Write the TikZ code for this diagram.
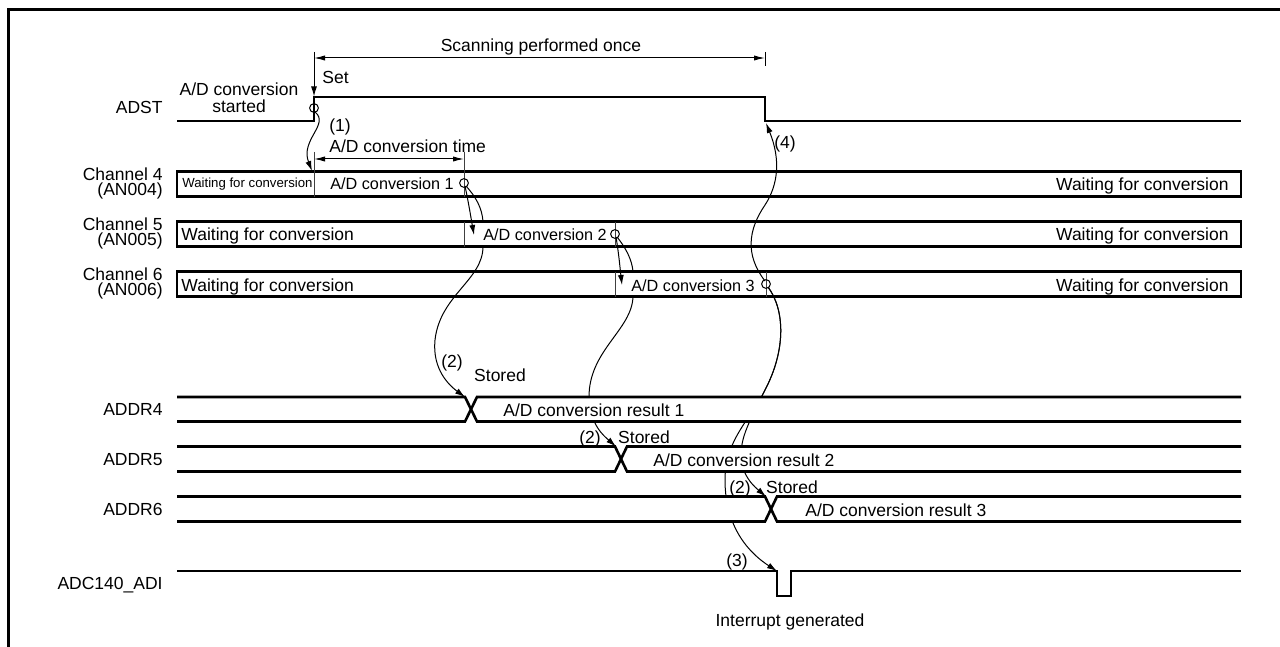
\documentclass[tikz,border=0pt]{standalone}
\usepackage{fontspec}
\setmainfont{Liberation Sans}
\usetikzlibrary{arrows.meta}
\newcommand\fsN{\fontsize{8.75}{10.5}\selectfont}
\newcommand\fsC{\fontsize{8.1}{10}\selectfont}
\newcommand\fsS{\fontsize{6.6}{8}\selectfont}
\begin{document}
\begin{tikzpicture}[x=0.5pt,y=-0.5pt,
  sig/.style={line width=1.3pt},
  thinl/.style={line width=0.5pt},
  tip/.style={-{Latex[length=5pt,width=3pt]}},
  dimarr/.style={thinl,{Latex[length=5.5pt,width=2.6pt]}-{Latex[length=5.5pt,width=2.6pt]}},
  txt/.style={inner sep=0pt,font=\fsN,text height=6.3pt,text depth=0pt},
  ctxt/.style={inner sep=0pt,font=\fsC,text height=5.9pt,text depth=0pt},
  stxt/.style={inner sep=0pt,font=\fsS,text height=4.75pt,text depth=0pt},
  mtxt/.style={inner sep=0pt,align=right,font=\fontsize{8.75}{7.5}\selectfont},
  chbox/.style={sig,fill=white},
  divd/.style={line width=0.5pt,draw=black!75},
  ring/.style={line width=0.5pt}
]
\useasboundingbox (0,0) rectangle (1280,647);
% frame
\draw[line width=1.5pt] (8,647) -- (8,9.5) -- (1280,9.5);

% signal names
\node[txt,anchor=east] (lADST) at (163,107) {ADST};
\node[mtxt,anchor=east] (lCh4) at (163,183) {Channel 4\\(AN004)};
\node[mtxt,anchor=east] (lCh5) at (163,233) {Channel 5\\(AN005)};
\node[mtxt,anchor=east] (lCh6) at (163,283) {Channel 6\\(AN006)};
\node[txt,anchor=east] (lA4) at (163,409) {ADDR4};
\node[txt,anchor=east] (lA5) at (163,459) {ADDR5};
\node[txt,anchor=east] (lA6) at (163,509) {ADDR6};
\node[txt,anchor=east] (lADI) at (163,583) {ADC140\_ADI};

% ADST
\coordinate (rise) at (314,97);
\coordinate (fallb) at (765,121);
\draw[sig] (177,121) -- (314,121) -- (rise) -- (765,97) -- (fallb) -- (1241,121);
\coordinate (setTop) at (314,52);
\draw[thinl,tip] (setTop) -- (314,96.5);
\coordinate (scanL) at (314,58);
\coordinate (scanR) at (765,58);
\draw[dimarr] (scanL) -- (scanR);
\draw[thinl] (765,52) -- (765,66);
\node[txt] (scan) at (541,45) {Scanning performed once};
\node[txt,anchor=west] (setT) at (322,77) {Set};
\node[inner sep=0pt,align=center,font=\fontsize{8.75}{8.5}\selectfont] (started) at (239,98) {A/D conversion\\started};
\coordinate (c0) at (314,108);

% conversion time
\coordinate (ctL) at (314,159);
\coordinate (ctR) at (464,159);
\draw[dimarr] (ctL) -- (ctR);
\node[txt,anchor=west] (ctT) at (329,146) {A/D conversion time};

% channel boxes
\draw[chbox] (177,171.5) rectangle (1241,196.5);
\draw[chbox] (177,221.5) rectangle (1241,246.5);
\draw[chbox] (177,271.5) rectangle (1241,296.5);
\draw[divd] (314,152) -- (314,196.5);
\draw[divd] (464,152) -- (464,196.5);
\draw[divd] (464,221.5) -- (464,246.5);
\draw[divd] (615,221.5) -- (615,246.5);
\draw[divd] (615,271.5) -- (615,296.5);
\draw[divd] (766,271.5) -- (766,296.5);

\coordinate (c1) at (464,183);
\coordinate (c2) at (615,234);
\coordinate (c3) at (766,284);
\coordinate (x4) at (465,397);
\coordinate (x5) at (616,446.5);
\coordinate (x6) at (766,496.5);
\coordinate (pulse) at (777,571);

% (2) arrows between channels
\draw[thinl,tip] (465,186) .. controls (469,205) and (471,218) .. (474,235);
\draw[thinl,tip] (616,237) .. controls (619,255) and (620,268) .. (622,285);

% long curves (gaps inside intermediate boxes)
\draw[thinl] (466,186) .. controls (476,197) and (482,208) .. (483,221.5);
\draw[thinl,tip] (483,246.5) .. controls (483,280) and (440,295) .. (435,340) .. controls (432,370) and (450,386) .. (x4);
\draw[thinl] (617,237) .. controls (626,248) and (632,260) .. (633,271.5);
\draw[thinl,tip] (633,296.5) .. controls (632,330) and (589,350) .. (589,397) .. controls (590,425) and (604,436) .. (x5);
\draw[thinl,tip] (768,287) .. controls (785,310) and (786,350) .. (765,390) .. controls (748,425) and (738,440) .. (742,465) .. controls (746,480) and (756,488) .. (x6);
\draw[thinl,tip] (768,287) .. controls (785,310) and (786,350) .. (765,390) .. controls (750,420) and (725,440) .. (725,480) .. controls (725,530) and (752,555) .. (pulse);

% ADDR buses
\fill[white] (177,397) rectangle (1241,421.5);
\fill[white] (177,446.5) rectangle (1241,471.5);
\fill[white] (177,496.5) rectangle (1241,521.5);
\draw[sig] (177,397) -- (465,397) -- (477,421.5) -- (1241,421.5);
\draw[sig] (177,421.5) -- (465,421.5) -- (477,397) -- (1241,397);
\draw[sig] (177,446.5) -- (615,446.5) -- (627,471.5) -- (1241,471.5);
\draw[sig] (177,471.5) -- (615,471.5) -- (627,446.5) -- (1241,446.5);
\draw[sig] (177,496.5) -- (765,496.5) -- (777,521.5) -- (1241,521.5);
\draw[sig] (177,521.5) -- (765,521.5) -- (777,496.5) -- (1241,496.5);

% ADC140_ADI
\draw[sig] (177,571) -- (pulse) -- (777,596) -- (791,596) -- (791,571) -- (1241,571);
\node[txt] (intr) at (790,620) {Interrupt generated};

% channel texts
\node[stxt,anchor=west] (w4a) at (182,183) {Waiting for conversion};
\node[ctxt,anchor=west] (conv1) at (330,184) {A/D conversion 1};
\node[txt,anchor=east] (w4b) at (1229,184) {Waiting for conversion};
\node[txt,anchor=west] (w5a) at (181,234) {Waiting for conversion};
\node[ctxt,anchor=west] (conv2) at (483,235) {A/D conversion 2};
\node[txt,anchor=east] (w5b) at (1229,234) {Waiting for conversion};
\node[txt,anchor=west] (w6a) at (181,285) {Waiting for conversion};
\node[ctxt,anchor=west] (conv3) at (631,286) {A/D conversion 3};
\node[txt,anchor=east] (w6b) at (1229,285) {Waiting for conversion};

% bus texts
\node[txt,anchor=west] (r1) at (503,410) {A/D conversion result 1};
\node[txt,anchor=west] (r2) at (653,460) {A/D conversion result 2};
\node[txt,anchor=west] (r3) at (805,510) {A/D conversion result 3};
\node[txt] (s1) at (500,375) {Stored};
\node[txt] (s2) at (644,437) {Stored};
\node[txt] (s3) at (792,487) {Stored};
\node[txt] (n2a) at (452,361) {(2)};
\node[txt] (n2b) at (590,437) {(2)};
\node[txt] (n2c) at (740,487) {(2)};
\node[txt] (n3) at (737,560) {(3)};
\node[txt] (n4) at (785,142) {(4)};
\node[txt] (n1) at (340,125) {(1)};

% circles
\draw[ring] (c0) circle[radius=2.2pt];
\draw[ring] (c1) circle[radius=2.2pt];
\draw[ring] (c2) circle[radius=2.2pt];
\draw[ring] (c3) circle[radius=2.2pt];

% (1) and (4)
\draw[thinl,tip] (315,112) .. controls (330,124) and (300,140) .. (312,171);
\draw[thinl,tip] (765,281) .. controls (745,255) and (748,230) .. (765,205) .. controls (778,185) and (781,160) .. (766,123);
\end{tikzpicture}
\end{document}
